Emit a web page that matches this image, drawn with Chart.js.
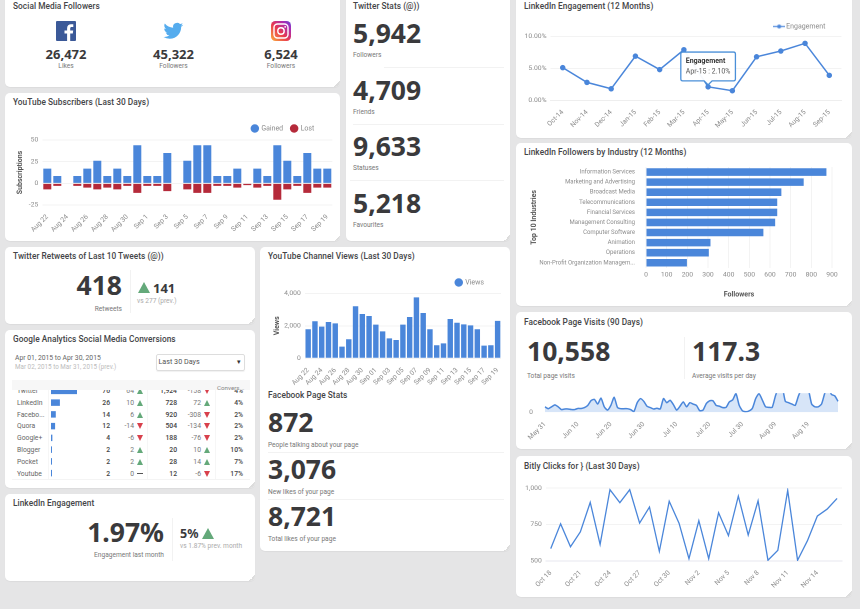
<!DOCTYPE html>
<html><head><meta charset="utf-8">
<script src="https://cdn.jsdelivr.net/npm/chart.js@4"></script>
<style>
html,body{margin:0;padding:0;background:#e5e5e6;overflow:hidden}
#root{position:relative;width:860px;height:609px;background:#e5e5e6;overflow:hidden;font-family:Roboto,sans-serif;filter:blur(.4px)}
.p{position:absolute;background:#fff;border-radius:5px;box-shadow:0 1px 1px rgba(0,0,0,.04)}
.p:after{content:"";position:absolute;right:0;bottom:0;width:6px;height:6px;background:linear-gradient(135deg,transparent 50%,#dcdcdc 50%);border-bottom-right-radius:5px}
.t{position:absolute;white-space:nowrap;line-height:1}
.h{position:absolute;background:#f1f1f1}
canvas{position:absolute;display:block}
</style></head><body><div id="root"></div>
<script>
// ---------- data ----------
const socialValues=['26,472','45,322','6,524'];
const socialLabels=['Likes','Followers','Followers'];
const twitterValues=['5,942','4,709','9,633','5,218'];
const twitterLabels=['Followers','Friends','Statuses','Favourites'];
const fbStatValues=['872','3,076','8,721'];
const fbStatLabels=['People talking about your page','New likes of your page','Total likes of your page'];

const subDays=['Aug 22','Aug 23','Aug 24','Aug 25','Aug 26','Aug 27','Aug 28','Aug 29','Aug 30','Aug 31','Sep 1','Sep 2','Sep 3','Sep 4','Sep 5','Sep 6','Sep 7','Sep 8','Sep 9','Sep 10','Sep 11','Sep 12','Sep 13','Sep 14','Sep 15','Sep 16','Sep 17','Sep 18','Sep 19'];
const subGained=[17,8.5,0,8.5,17,26,8.5,17,8.5,44,8.5,8.5,35,0,26,44,44,8.5,8.5,17,0,17,8.5,44,26,8.5,35,17,17];
const subLost=[-7,-3,0,-3,-5,-7,-5,-7,-3,-11,-3,-3,-9,0,-7,-11,-11,-3,-3,-5,-2,-5,-3,-19,-7,-3,-11,-5,-5];
const subTicks=[-25,0,25,50];

const viewDays=['Aug 22','Aug 23','Aug 24','Aug 25','Aug 26','Aug 27','Aug 28','Aug 29','Aug 30','Aug 31','Sep 01','Sep 02','Sep 03','Sep 04','Sep 05','Sep 06','Sep 07','Sep 08','Sep 09','Sep 10','Sep 11','Sep 12','Sep 13','Sep 14','Sep 15','Sep 16','Sep 17','Sep 18','Sep 19'];
const viewValues=[1785,2280,1950,2235,2150,720,1170,3200,2730,2600,2070,1660,1230,1130,2070,2540,3750,2790,1785,800,920,2420,2190,2090,2030,1785,780,800,2300];

const engMonths=['Oct-14','Nov-14','Dec-14','Jan-15','Feb-15','Mar-15','Apr-15','May-15','Jun-15','Jul-15','Aug-15','Sep-15'];
const engValues=[5.1,2.8,1.8,6.9,4.8,7.9,2.1,1.5,6.8,7.7,8.9,3.9];

const industries=['Information Services','Marketing and Advertising','Broadcast Media','Telecommunications','Financial Services','Management Consulting','Computer Software','Animation','Operations','Non-Profit Organization Managem...'];
const industryFollowers=[873,763,655,635,635,625,568,312,304,198];

const fbTickLabels=['May 31','Jun 10','Jun 20','Jun 30','Jul 10','Jul 20','Jul 30','Aug 09','Aug 19'];
const fbVisits=[70,46,70,95,70,35,42,42,35,35,
49,49,60,88,150,165,105,182,70,28,
88,192,63,46,46,46,35,10,122,175,
140,77,60,42,52,42,175,122,154,98,
28,77,133,70,122,105,88,21,28,112,
147,147,88,77,60,63,133,158,238,88,
18,7,18,52,175,238,158,70,63,63,
210,315,330,140,122,105,88,210,300,340,
290,105,70,70,105,245,320,228,210,140];

const bitlyDays=['Oct 18','Oct 19','Oct 20','Oct 21','Oct 22','Oct 23','Oct 24','Oct 25','Oct 26','Oct 27','Oct 28','Oct 29','Oct 30','Oct 31','Nov 1','Nov 2','Nov 3','Nov 4','Nov 5','Nov 6','Nov 7','Nov 8','Nov 9','Nov 10','Nov 11','Nov 12','Nov 13','Nov 14','Nov 15','Nov 16'];
const bitlyClicks=[585,755,598,700,902,614,989,900,989,760,870,566,910,758,516,776,516,831,674,945,678,913,505,573,984,505,639,808,856,929];

const gaNames=['Twitter','LinkedIn','Facebo...','Quora','Google+','Blogger','Pocket','Youtube'];
const gaSessions=[76,26,14,12,4,2,2,2];
const gaSessionDelta=[64,10,6,-14,-6,2,2,0];
const gaPageviews=['1,924','728','920','504','188','20','28','12'];
const gaPageDelta=[-158,72,-308,-134,-76,10,14,-6];
const gaConv=['4%','4%','2%','2%','2%','10%','7%','17%'];

// ---------- helpers ----------
const root=document.getElementById('root');
const BLUE='#4a86da',RED='#b52a3a',GREEN='#64a97a',DOWN='#d8404c',INK='#3a3a3c',MUT='#777',LIGHT='#aaa';
const BIGFONT='"Noto Sans",sans-serif';
function el(parent,cls,css,html){const d=document.createElement('div');d.className=cls;d.style.cssText=css;if(html!==undefined)d.textContent=html;parent.appendChild(d);return d;}
function panel(x,y,w,h){return el(root,'p',`left:${x}px;top:${y}px;width:${w}px;height:${h}px`);}
// text with page coordinates: x = anchor, y = vertical centre, a = 'l' | 'r' | 'c'
function T(x,y,s,size,color,weight,a,parent,ls){
  const tx=a==='r'?'-100%':a==='c'?'-50%':'0';
  return el(parent||root,'t',`left:${x}px;top:${y}px;transform:translate(${tx},-50%);font-size:${size}px;color:${color};font-weight:${weight||400};letter-spacing:${ls||0}px`,s);
}
function Big(x,y,s,a,size){const d=T(x,y-2,s,size||26.5,INK,700,a);d.style.fontFamily=BIGFONT;return d;}
function title(x,y,s){T(x,y,s,8.3,'#444547',500,'l',null,.05);}
function rule(x,y,w,h,c){el(root,'h',`left:${x}px;top:${y}px;width:${w}px;height:${h}px;background:${c||'#f2f2f2'}`);}
function tri(x,y,w,h,c,down,parent){
  el(parent||root,'t',`left:${x}px;top:${y-h/2}px;width:0;height:0;border-left:${w/2}px solid transparent;border-right:${w/2}px solid transparent;${down?'border-top':'border-bottom'}:${h}px solid ${c}`);
}
Chart.defaults.font.family='Roboto,sans-serif';
Chart.defaults.font.size=6.8;
Chart.defaults.color='#8a8a8a';
Chart.defaults.animation=false;
Chart.defaults.responsive=false;
Chart.defaults.devicePixelRatio=2;

const legendHeight={id:'legendHeight',
 beforeInit(chart,args,o){
  if(!chart.legend||!o.height)return;
  const f=chart.legend.fit;chart.legend.fit=function(){f.call(this);this.height=o.height;};
 },
 afterLayout(chart,args,o){ if(chart.legend&&o.shift) chart.legend.right-=o.shift; }
};
// box: canvas rect in page px; area: plot rect in page px
function makeChart(box,area,cfg,legendH,shift){
  const c=document.createElement('canvas');
  c.width=box.w;c.height=box.h;c.style.cssText=`left:${box.x}px;top:${box.y}px;width:${box.w}px;height:${box.h}px`;
  root.appendChild(c);
  const o=cfg.options;
  o.layout={autoPadding:false,padding:{left:0,right:box.x+box.w-area.r,bottom:0,top:legendH?0:area.t-box.y}};
  o.scales.x.afterFit=s=>{s.height=box.y+box.h-area.b;};
  o.scales.y.afterFit=s=>{s.width=area.l-box.x;};
  o.plugins=o.plugins||{};
  o.plugins.legendHeight={height:legendH?area.t-box.y:0,shift:shift||0};
  cfg.plugins=[legendHeight];
  return new Chart(c.getContext('2d'),cfg);
}
const GRID='#f3f3f3';
const circleLegend={display:true,position:'top',align:'end',labels:{usePointStyle:true,pointStyle:'circle',boxWidth:6,boxHeight:6,padding:8,color:'#8a8a8a',font:{size:7}}};
function xAxis(ti){return {grid:{display:false},border:{display:false},ticks:{autoSkip:false,minRotation:45,maxRotation:45,padding:0,callback:ti}};}
const yGrid={color:GRID,drawTicks:false};

// ---------- panels ----------
panel(5,-6,335,93);
panel(5,93,335,148);
panel(346,-6,164,247);
panel(5,247,250,77);
panel(260,247,250,304);
panel(5,330,250,158);
panel(5,494,250,87);
panel(516,-6,336,144);
panel(516,143,336,163);
panel(516,312,336,137);
panel(516,456,336,141);

// Social Media Followers
title(13,6,'Social Media Followers');
const icons=document.createElementNS('http://www.w3.org/2000/svg','svg');
icons.setAttribute('width','860');icons.setAttribute('height','60');
icons.style.cssText='position:absolute;left:0;top:0';
icons.innerHTML=`<defs><linearGradient id="ig" x1="0" y1="1" x2="1" y2="0"><stop offset="0" stop-color="#fbb03b"/><stop offset=".45" stop-color="#e8384f"/><stop offset=".8" stop-color="#a52bb8"/><stop offset="1" stop-color="#5b4fd1"/></linearGradient></defs>
<rect x="56" y="21" width="20" height="20" rx="1" fill="#3b5998"/>
<path d="M70.2 41v-7.6h2.6l.4-3h-3v-1.9c0-.9.3-1.5 1.5-1.5h1.6v-2.7c-.3 0-1.2-.1-2.3-.1-2.3 0-3.9 1.4-3.9 4v2.2h-2.6v3h2.6V41z" fill="#fff"/>
<g transform="translate(163.5,21) scale(.82)"><path fill="#55acee" d="M23.953 4.57a10 10 0 01-2.825.775 4.958 4.958 0 002.163-2.723c-.951.555-2.005.959-3.127 1.184a4.92 4.92 0 00-8.384 4.482C7.69 8.095 4.067 6.13 1.64 3.162a4.822 4.822 0 00-.666 2.475c0 1.71.87 3.213 2.188 4.096a4.904 4.904 0 01-2.228-.616v.06a4.923 4.923 0 003.946 4.827 4.996 4.996 0 01-2.212.085 4.936 4.936 0 004.604 3.417 9.867 9.867 0 01-6.102 2.105c-.39 0-.779-.023-1.17-.067a13.995 13.995 0 007.557 2.209c9.053 0 13.998-7.496 13.998-13.985 0-.21 0-.42-.015-.63A9.935 9.935 0 0024 4.59z"/></g>
<rect x="271" y="21" width="20" height="20" rx="4.5" fill="url(#ig)"/>
<rect x="274" y="24" width="14" height="14" rx="3.5" fill="none" stroke="#fff" stroke-width="1.4"/>
<circle cx="281" cy="31" r="3.2" fill="none" stroke="#fff" stroke-width="1.4"/><circle cx="285.2" cy="26.8" r=".9" fill="#fff"/>`;
root.appendChild(icons);
[66,173.5,281].forEach((x,i)=>{const d=T(x,54,socialValues[i],13,INK,700,'c');d.style.fontFamily=BIGFONT;T(x,66,socialLabels[i],6.6,MUT,400,'c');});

// YouTube Subscribers
title(13,102,'YouTube Subscribers (Last 30 Days)');
makeChart({x:16,y:117,w:321,h:123},{l:42.3,r:332.3,t:140,b:205},{type:'bar',
 data:{labels:subDays,datasets:[
  {label:'Gained',data:subGained,backgroundColor:BLUE,stack:'s',barPercentage:.8,categoryPercentage:1},
  {label:'Lost',data:subLost,backgroundColor:RED,stack:'s',barPercentage:.8,categoryPercentage:1}]},
 options:{plugins:{legend:circleLegend,tooltip:{enabled:false}},
  scales:{x:Object.assign(xAxis((v,i)=>i%2?null:subDays[i]),{stacked:true}),
   y:{stacked:true,min:-25,max:50,afterBuildTicks:s=>{s.ticks=subTicks.map(v=>({value:v}));},grid:yGrid,border:{display:false},
    title:{display:true,text:'Subscriptions',font:{size:7,weight:'bold'},color:'#555',padding:{top:0,bottom:2}},ticks:{padding:4}}}}},23,10);

// Twitter Stats
title(353,6,'Twitter Stats (@))');
[35,92,148,205].forEach((y,i)=>{Big(353,y,twitterValues[i]);T(353,y+20,twitterLabels[i],6.6,MUT);});
rule(384,66.5,120,1);rule(353,124,151,1);rule(350,180,154,1);

// Retweets
title(13,256,'Twitter Retweets of Last 10 Tweets (@))');
Big(122,287,'418','r');T(122,309,'Retweets',6.6,MUT,400,'r');
rule(130,270,1,43);
tri(138,287,12,11,GREEN,false);
const rt=T(153,287.5,'141',13,INK,700);rt.style.fontFamily=BIGFONT;T(137,300.5,'vs 277 (prev.)',6.6,LIGHT);

// YouTube Channel Views
title(268,256,'YouTube Channel Views (Last 30 Days)');
makeChart({x:272.5,y:271,w:234.5,h:115},{l:304.3,r:501,t:293.3,b:358.3},{type:'bar',
 data:{labels:viewDays,datasets:[{label:'Views',data:viewValues,backgroundColor:BLUE,barPercentage:.8,categoryPercentage:1}]},
 options:{plugins:{legend:circleLegend,tooltip:{enabled:false}},
  scales:{x:xAxis((v,i)=>i%2?null:viewDays[i]),
   y:{min:0,max:4000,ticks:{stepSize:2000,padding:4,callback:v=>v.toLocaleString('en-US')},grid:yGrid,border:{display:false},
    title:{display:true,text:'Views',font:{size:7,weight:'bold'},color:'#555',padding:{top:0,bottom:2}}}}}},22.3,9);

// Facebook Page Stats
title(268,395,'Facebook Page Stats');
[424,471,518].forEach((y,i)=>{Big(268,y,fbStatValues[i]);T(268,y+21,fbStatLabels[i],6.6,MUT);});
rule(268,452,236,1);rule(268,499,236,1);

// Google Analytics
title(13,339,'Google Analytics Social Media Conversions');
T(15,358,'Apr 01, 2015 to Apr 30, 2015',6.8,'#666');
T(15,366.5,'Mar 02, 2015 to Mar 31, 2015 (prev.)',6.3,'#bbb');
el(root,'t','left:156px;top:354px;width:87px;height:15px;border:1px solid #ddd;border-radius:2px;box-shadow:0 1px 1px rgba(0,0,0,.06)');
T(158.5,362,'Last 30 Days',7.2,'#555');T(239,362,'▾',7,'#333',400,'c');
rule(12,380,238,9.5,'#f7f7f7');
const hdr=el(root,'t','left:12px;top:380px;width:238px;height:9.5px;overflow:hidden');
T(205,8,'Convers...',6.2,'#888',400,'l',hdr);
const tbl=el(root,'t','left:12px;top:389.5px;width:238px;height:89.5px;overflow:hidden;background:transparent;border-bottom:1px solid #f4f4f4');
[36,135,203].forEach(x=>el(tbl,'h',`left:${x}px;top:0;width:1px;height:90px;background:#f6f6f6`));
gaNames.forEach((n,i)=>{
  const y=1.4+i*11.8;
  T(5,y,n,6.8,'#666',400,'l',tbl);
  T(98,y,String(gaSessions[i]),6.8,'#444',500,'r',tbl);
  T(122,y,String(gaSessionDelta[i]),6.8,'#777',400,'r',tbl);
  if(gaSessionDelta[i]>0)tri(125,y,7,6,GREEN,false,tbl);
  else if(gaSessionDelta[i]<0)tri(125,y,7,6,DOWN,true,tbl);
  else el(tbl,'h',`left:125px;top:${y-.5}px;width:6px;height:1.2px;background:#555`);
  T(165,y,gaPageviews[i],6.8,'#444',500,'r',tbl);
  T(189,y,String(gaPageDelta[i]),6.8,'#777',400,'r',tbl);
  tri(192,y,7,6,gaPageDelta[i]>0?GREEN:DOWN,gaPageDelta[i]<0,tbl);
  T(231,y,gaConv[i],6.8,'#444',500,'r',tbl);
});
// sessions mini bars
const miniWrap=el(root,'t','left:51px;top:389.5px;width:27px;height:90px;overflow:hidden');
const mini=document.createElement('canvas');mini.width=26;mini.height=94.4;
mini.style.cssText='left:0;top:-4.5px;width:26px;height:94.4px';miniWrap.appendChild(mini);
new Chart(mini.getContext('2d'),{type:'bar',data:{labels:gaNames,datasets:[{data:gaSessions,backgroundColor:BLUE,barPercentage:.55,categoryPercentage:1,minBarLength:1}]},
 options:{indexAxis:'y',layout:{padding:0,autoPadding:false},plugins:{legend:{display:false},tooltip:{enabled:false}},
  scales:{x:{display:false,min:0,max:76},y:{display:false}}}});

// LinkedIn Engagement big number
title(13,503,'LinkedIn Engagement');
Big(164,534,'1.97%','r');T(164,554.5,'Engagement last month',6.6,MUT,400,'r');
rule(172,518,1,43);
const pc=T(180,534,'5%',12.5,INK,700);pc.style.fontFamily=BIGFONT;tri(202,533.5,12,11,GREEN,false);
T(180,546,'vs 1.87% prev. month',6.6,LIGHT);

// LinkedIn Engagement (12 months)
title(524,6,'LinkedIn Engagement (12 Months)');
const ls=document.createElement('canvas');ls.width=12;ls.height=5;
(function(){const g=ls.getContext('2d');g.strokeStyle=BLUE;g.lineWidth=1.2;g.beginPath();g.moveTo(0,2.5);g.lineTo(12,2.5);g.stroke();g.fillStyle=BLUE;g.beginPath();g.arc(6,2.5,2,0,7);g.fill();})();
const engChart=makeChart({x:520,y:18,w:328,h:120},{l:550.6,r:841.4,t:36.3,b:100.3},{type:'line',
 data:{labels:engMonths,datasets:[{label:'Engagement',data:engValues,borderColor:BLUE,backgroundColor:BLUE,borderWidth:1.5,pointRadius:2,pointHoverRadius:2,tension:0}]},
 options:{events:[],plugins:{
   legend:{display:true,position:'top',align:'end',labels:{usePointStyle:true,pointStyle:ls,padding:5,color:'#8a8a8a',font:{size:7}}},
   tooltip:{enabled:true,yAlign:'bottom',xAlign:'center',backgroundColor:'rgba(255,255,255,.95)',borderColor:'#4a8fd8',borderWidth:1.3,titleColor:'#333',bodyColor:'#555',
     titleFont:{size:7,weight:'bold'},bodyFont:{size:7},displayColors:false,caretSize:4,cornerRadius:2,padding:5,titleMarginBottom:2,
     callbacks:{title:()=> 'Engagement',label:c=>c.label+' : '+c.parsed.y.toFixed(2)+'%'}}},
  scales:{x:{offset:true,grid:{display:false},border:{display:true,color:'#eee'},ticks:{autoSkip:false,minRotation:45,maxRotation:45,padding:0}},
   y:{min:0,max:10,ticks:{stepSize:5,padding:4,callback:v=>v.toFixed(2)+'%'},grid:yGrid,border:{display:false}}}}},18.3,11);
(function(){const m=engChart.getDatasetMeta(0).data[6];engChart.tooltip.setActiveElements([{datasetIndex:0,index:6}],{x:m.x,y:m.y});engChart.update();})();

// LinkedIn Followers by Industry
title(524,152,'LinkedIn Followers by Industry (12 Months)');
makeChart({x:530,y:160,w:311,h:139},{l:646,r:832,t:167,b:267.8},{type:'bar',
 data:{labels:industries,datasets:[{data:industryFollowers,backgroundColor:BLUE,barPercentage:.75,categoryPercentage:1}]},
 options:{indexAxis:'y',plugins:{legend:{display:false},tooltip:{enabled:false}},
  scales:{x:{min:0,max:900,ticks:{stepSize:100,padding:3},grid:yGrid,border:{display:false},
     title:{display:true,text:'Followers',font:{size:7,weight:'bold'},color:'#555',padding:{top:9,bottom:0}}},
   y:{grid:{display:false},border:{display:false},ticks:{autoSkip:false,padding:3,font:{size:6}},
     title:{display:true,text:'Top 10 Industries',font:{size:7,weight:'bold'},color:'#555',padding:{top:0,bottom:3}}}}}});

// Facebook Page Visits
title(524,322,'Facebook Page Visits (90 Days)');
Big(527,352.7,'10,558');T(527,375.7,'Total page visits',6.6,MUT);
rule(684,337,1,42);
Big(692,352.7,'117.3');T(692,375.7,'Average visits per day',6.6,MUT);
makeChart({x:525,y:385,w:320,h:60},{l:545,r:838,t:389,b:412.3},{type:'line',
 data:{labels:fbVisits.map((v,i)=>fbTickLabels[i/10]||''),datasets:[{data:fbVisits,borderColor:BLUE,backgroundColor:'#d7e5f8',fill:true,borderWidth:1.5,pointRadius:0,tension:.2}]},
 options:{plugins:{legend:{display:false},tooltip:{enabled:false}},
  scales:{x:xAxis((v,i)=>fbTickLabels[i/10]||null),
   y:{min:0,max:245,ticks:{stepSize:245,padding:4,callback:v=>v===0?'0':''},grid:{display:false},border:{display:false}}}}});

// Bitly
title(524,466,'Bitly Clicks for } (Last 30 Days)');
makeChart({x:520,y:480,w:328,h:112},{l:545.8,r:842,t:488,b:561},{type:'line',
 data:{labels:bitlyDays,datasets:[{data:bitlyClicks,borderColor:BLUE,borderWidth:1.3,pointRadius:0,tension:0}]},
 options:{plugins:{legend:{display:false},tooltip:{enabled:false}},
  scales:{x:Object.assign(xAxis((v,i)=>i%3?null:bitlyDays[i]),{offset:true,border:{display:true,color:'#e6e6ee'}}),
   y:{min:500,max:1000,ticks:{stepSize:250,padding:4,callback:v=>v.toLocaleString('en-US')},grid:yGrid,border:{display:false}}}}});
</script></body></html>
